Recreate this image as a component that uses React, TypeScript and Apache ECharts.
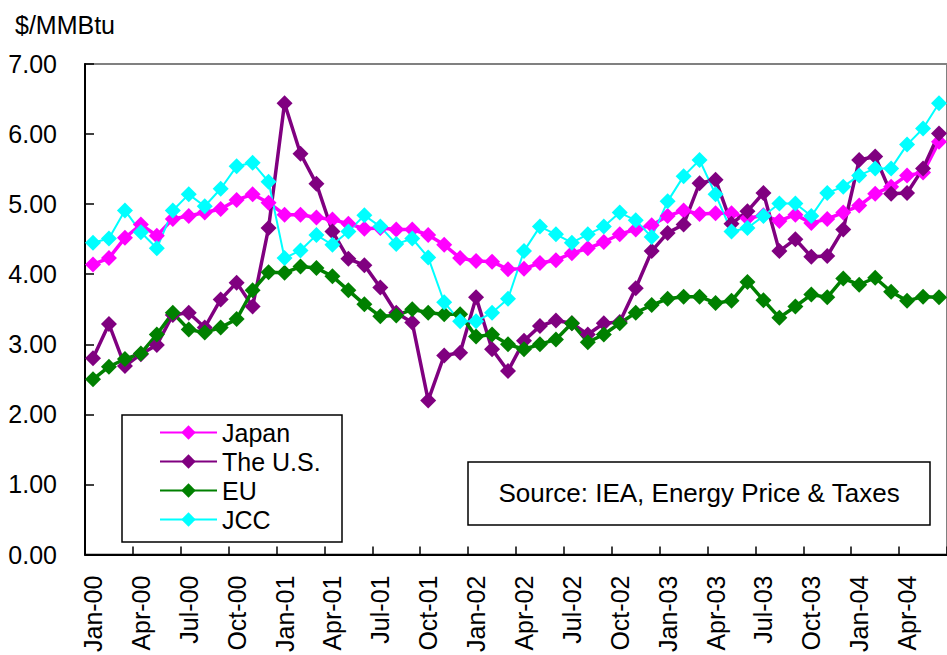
import React, { useEffect, useRef } from "react";
import * as echarts from "echarts";

const categories = [
  "Jan-00","Feb-00","Mar-00","Apr-00","May-00","Jun-00","Jul-00","Aug-00","Sep-00","Oct-00","Nov-00","Dec-00",
  "Jan-01","Feb-01","Mar-01","Apr-01","May-01","Jun-01","Jul-01","Aug-01","Sep-01","Oct-01","Nov-01","Dec-01",
  "Jan-02","Feb-02","Mar-02","Apr-02","May-02","Jun-02","Jul-02","Aug-02","Sep-02","Oct-02","Nov-02","Dec-02",
  "Jan-03","Feb-03","Mar-03","Apr-03","May-03","Jun-03","Jul-03","Aug-03","Sep-03","Oct-03","Nov-03","Dec-03",
  "Jan-04","Feb-04","Mar-04","Apr-04","May-04","Jun-04",
];

const japan = [
  4.14, 4.23, 4.52, 4.71, 4.55, 4.79, 4.83, 4.88, 4.93, 5.06, 5.14, 5.02,
  4.85, 4.85, 4.81, 4.78, 4.72, 4.65, 4.66, 4.64, 4.64, 4.56, 4.42, 4.23,
  4.19, 4.18, 4.07, 4.08, 4.16, 4.20, 4.30, 4.37, 4.46, 4.57, 4.64, 4.70,
  4.83, 4.91, 4.86, 4.87, 4.87, 4.80, 4.84, 4.76, 4.85, 4.73, 4.79, 4.88,
  4.98, 5.15, 5.25, 5.41, 5.45, 5.89,
];

const us = [
  2.80, 3.29, 2.69, 2.86, 2.99, 3.42, 3.45, 3.24, 3.64, 3.88, 3.54, 4.66,
  6.44, 5.72, 5.29, 4.61, 4.22, 4.13, 3.81, 3.45, 3.31, 2.20, 2.84, 2.88,
  3.67, 2.93, 2.62, 3.05, 3.26, 3.34, 3.30, 3.14, 3.30, 3.32, 3.80, 4.33,
  4.59, 4.71, 5.30, 5.35, 4.72, 4.90, 5.16, 4.33, 4.50, 4.25, 4.26, 4.64,
  5.63, 5.68, 5.15, 5.16, 5.51, 6.01,
];

const eu = [
  2.50, 2.68, 2.79, 2.87, 3.14, 3.45, 3.21, 3.17, 3.24, 3.36, 3.77, 4.03,
  4.02, 4.11, 4.09, 3.97, 3.77, 3.57, 3.40, 3.41, 3.50, 3.45, 3.43, 3.43,
  3.11, 3.14, 3.00, 2.93, 3.00, 3.07, 3.30, 3.03, 3.14, 3.30, 3.45, 3.56,
  3.65, 3.68, 3.68, 3.59, 3.62, 3.89, 3.63, 3.38, 3.54, 3.71, 3.67, 3.94,
  3.85, 3.95, 3.75, 3.62, 3.68, 3.67,
];

const jcc = [
  4.45, 4.51, 4.91, 4.60, 4.37, 4.91, 5.14, 4.97, 5.22, 5.54, 5.59, 5.32,
  4.23, 4.34, 4.56, 4.42, 4.61, 4.84, 4.68, 4.43, 4.51, 4.24, 3.60, 3.33,
  3.33, 3.45, 3.65, 4.33, 4.68, 4.57, 4.45, 4.57, 4.68, 4.88, 4.77, 4.53,
  5.04, 5.40, 5.63, 5.14, 4.61, 4.66, 4.83, 5.01, 5.01, 4.83, 5.16, 5.25,
  5.41, 5.51, 5.51, 5.85, 6.08, 6.44,
];

const seriesNames = ["Japan", "The U.S.", "EU", "JCC"];
const seriesColors = ["#FF00FF", "#800080", "#008000", "#00FFFF"];
const seriesWidths = [3.5, 3.5, 3.5, 2];
const unitLabel = "$/MMBtu";
const sourceLabel = "Source: IEA, Energy Price & Taxes";

const FONT = "'Liberation Sans', Arial, sans-serif";

export default function App() {
  const ref = useRef<HTMLDivElement>(null);

  useEffect(() => {
    if (!ref.current) return;
    const chart = echarts.init(ref.current, null, { renderer: "svg" });
    const values = [japan, us, eu, jcc];
    chart.setOption({
      animation: false,
      backgroundColor: "#ffffff",
      textStyle: { fontFamily: FONT, color: "#000" },
      grid: {
        left: 85,
        top: 64,
        width: 867,
        height: 492,
        show: true,
        borderColor: "#808080",
        borderWidth: 2,
        backgroundColor: "transparent",
      },
      xAxis: {
        type: "category",
        data: categories,
        boundaryGap: true,
        axisLine: { show: true, lineStyle: { color: "#000", width: 2 } },
        axisTick: {
          show: true,
          inside: true,
          interval: 2,
          length: 8,
          alignWithLabel: false,
          lineStyle: { color: "#000", width: 1.5 },
        },
        axisLabel: {
          interval: 2,
          rotate: 90,
          fontSize: 25,
          fontFamily: FONT,
          color: "#000",
          margin: 21,
        },
        splitLine: { show: false },
      },
      yAxis: {
        type: "value",
        min: 0,
        max: 7,
        interval: 1,
        axisLine: { show: true, lineStyle: { color: "#000", width: 2 } },
        axisTick: {
          show: true,
          inside: true,
          length: 9,
          lineStyle: { color: "#000", width: 1.5 },
        },
        axisLabel: {
          fontSize: 25,
          fontFamily: FONT,
          color: "#000",
          margin: 28,
          formatter: (v: number) => v.toFixed(2),
        },
        splitLine: { show: false },
      },
      legend: {
        orient: "vertical",
        left: 159,
        top: 420,
        padding: 0,
        itemWidth: 57,
        itemHeight: 18,
        itemGap: 4,
        itemTextGap: 6,
        data: seriesNames,
        textStyle: { fontSize: 25, fontFamily: FONT, color: "#000", lineHeight: 25 },
        z: 10,
      },
      graphic: [
        {
          type: "text",
          x: 15,
          y: 25,
          style: {
            text: unitLabel,
            fontSize: 25,
            fontFamily: FONT,
            fill: "#000",
            verticalAlign: "middle",
            align: "left",
          },
        },
        {
          type: "rect",
          z: 5,
          shape: { x: 122, y: 415, width: 220, height: 127 },
          style: { fill: "#ffffff", stroke: "#000", lineWidth: 1.5 },
        },
        {
          type: "rect",
          z: 5,
          shape: { x: 468, y: 462, width: 462, height: 63 },
          style: { fill: "#ffffff", stroke: "#000", lineWidth: 1.5 },
        },
        {
          type: "text",
          z: 6,
          x: 699,
          y: 493,
          style: {
            text: sourceLabel,
            fontSize: 26,
            fontFamily: FONT,
            fill: "#000",
            align: "center",
            verticalAlign: "middle",
          },
        },
      ],
      series: seriesNames.map((name, i) => ({
        name,
        type: "line",
        data: values[i],
        symbol: "diamond",
        symbolSize: 16,
        showSymbol: true,
        showAllSymbol: true,
        lineStyle: { color: seriesColors[i], width: seriesWidths[i] },
        itemStyle: { color: seriesColors[i] },
        emphasis: { disabled: true },
      })),
    });
    return () => chart.dispose();
  }, []);

  return (
    <div
      ref={ref}
      style={{ position: "fixed", left: 0, top: 0, width: 947, height: 655 }}
    />
  );
}
